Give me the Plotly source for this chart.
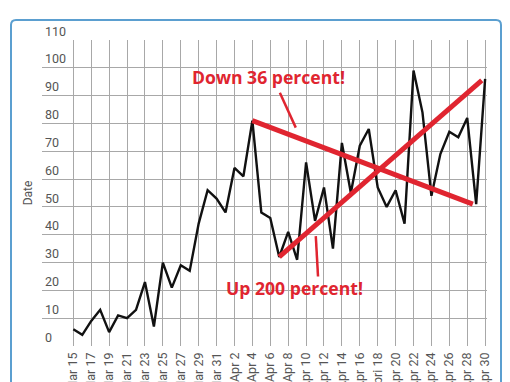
import plotly.graph_objects as go
import pandas as pd

# ---- data ----
dates = pd.date_range("2020-03-15", "2020-04-30", freq="D")
values = [6, 4, 9, 13, 5, 11, 10, 13, 23, 7, 30, 21, 29, 27, 44, 56, 53,
          48, 64, 61, 81, 48, 46, 32, 41, 31, 66, 45, 57, 35, 73, 55, 72, 78,
          57, 50, 56, 44, 99, 84, 54, 69, 77, 75, 82, 51, 96]

tick_dates = pd.date_range("2020-03-15", "2020-04-30", freq="2D")
tick_labels = ["Mar 15", "Mar 17", "Mar 19", "Mar 21", "Mar 23", "Mar 25",
               "Mar 27", "Mar 29", "Mar 31", "Apr 2", "Apr 4", "Apr 6",
               "Apr 8", "Apr 10", "Apr 12", "Apr 14", "Apr 16", "Apri 18",
               "Apr 20", "Apr 22", "Apr 24", "Apr 26", "Apr 28", "Apr 30"]
y_ticks = [0, 10, 20, 30, 40, 50, 60, 70, 80, 90, 100, 110]

down_x = ["2020-04-04", "2020-04-28 15:00"]
down_y = [81, 51]
up_x = ["2020-04-07", "2020-04-29 15:00"]
up_y = [32, 95.5]

down_label = "Down 36 percent!"
up_label = "Up 200 percent!"

RED = "#e02530"
GRID = "#a8a8a8"
TXT = "#555555"
X_RANGE = ["2020-03-11 12:00", "2020-04-30 05:00"]

# layout geometry (figure px; page has 8px body margin)
L, R, T, B = 34, 31, 15, 44
PLOT_W = 510 - L - R            # 445
PAPER_H = 382 - T - B           # 323
MAIN_H = 306                    # height of 0..110 region
Y_MAX = 110
Y2_MAX = Y_MAX * PAPER_H / MAIN_H

fig = go.Figure()

fig.add_trace(go.Scatter(x=dates, y=values, mode="lines",
                         line=dict(color="#111111", width=2.4),
                         hoverinfo="skip", showlegend=False))
fig.add_trace(go.Scatter(x=down_x, y=down_y, mode="lines",
                         line=dict(color=RED, width=5),
                         hoverinfo="skip", showlegend=False))
fig.add_trace(go.Scatter(x=up_x, y=up_y, mode="lines",
                         line=dict(color=RED, width=5),
                         hoverinfo="skip", showlegend=False))
# invisible carrier trace so the label axis (y2) is drawn
fig.add_trace(go.Scatter(x=[tick_dates[0]] * len(y_ticks), y=y_ticks,
                         xaxis="x2", yaxis="y2", mode="markers",
                         marker=dict(opacity=0), hoverinfo="skip",
                         showlegend=False))

# leader lines
fig.add_shape(type="line", xref="x", yref="y",
              x0="2020-04-07 01:40", y0=91, x1="2020-04-08 20:20", y1=78.5,
              line=dict(color=RED, width=2.5))
fig.add_shape(type="line", xref="x", yref="y",
              x0="2020-04-11 02:00", y0=39.5, x1="2020-04-11 08:00", y1=25,
              line=dict(color=RED, width=2.5))

fig.add_annotation(x="2020-04-05 20:00", y=96.8, text=down_label,
                   showarrow=False, xanchor="center", yanchor="middle",
                   font=dict(family="Open Sans", size=17.6, color=RED, weight="bold"))
fig.add_annotation(x="2020-04-08 16:00", y=21, text=up_label,
                   showarrow=False, xanchor="center", yanchor="middle",
                   font=dict(family="Open Sans", size=17.6, color=RED, weight="bold"))

# rounded border (paper coords)
def px(xp):
    return (xp - L) / PLOT_W

def py(yp):
    return (T + PAPER_H - yp) / PAPER_H

x0, x1, y0, y1, r = 3, 493, 12, 420, 5
path = (f"M {px(x0 + r)},{py(y0)} L {px(x1 - r)},{py(y0)} "
        f"Q {px(x1)},{py(y0)} {px(x1)},{py(y0 + r)} "
        f"L {px(x1)},{py(y1)} L {px(x0)},{py(y1)} "
        f"L {px(x0)},{py(y0 + r)} Q {px(x0)},{py(y0)} {px(x0 + r)},{py(y0)} Z")
fig.add_shape(type="path", xref="paper", yref="paper", path=path,
              line=dict(color="#5b9fd0", width=2), layer="below")

fig.update_layout(
    width=510, height=382,
    margin=dict(l=L, r=R, t=T, b=B, autoexpand=False),
    paper_bgcolor="white", plot_bgcolor="rgba(0,0,0,0)",
    font=dict(family="Roboto", color=TXT, size=12),
    xaxis=dict(
        range=X_RANGE,
        tickmode="array", tickvals=tick_dates, ticktext=tick_labels,
        tickangle=-90, showgrid=True, gridcolor=GRID, gridwidth=1,
        zeroline=False, showline=False, ticks="", automargin=False,
        ticklabelstandoff=3,
        tickfont=dict(family="Roboto", size=12.5, color=TXT),
        anchor="y",
    ),
    yaxis=dict(
        domain=[0, MAIN_H / PAPER_H],
        range=[0, Y_MAX], tickmode="array", tickvals=y_ticks,
        showticklabels=False, showgrid=True, gridcolor=GRID, gridwidth=1,
        zeroline=False, showline=False, ticks="", automargin=False,
        title=dict(text="Date", standoff=5,
                   font=dict(family="Roboto", size=12, color=TXT)),
    ),
    xaxis2=dict(range=X_RANGE, visible=False, anchor="y2", showgrid=False),
    yaxis2=dict(
        domain=[0, 1], range=[0, Y2_MAX], anchor="x2",
        tickmode="array", tickvals=y_ticks,
        ticklabelposition="inside top", showgrid=False, zeroline=False,
        showline=False, ticks="", automargin=False,
        tickfont=dict(family="Roboto", size=12.5, color=TXT),
    ),
)

fig.write_html("out.html")
